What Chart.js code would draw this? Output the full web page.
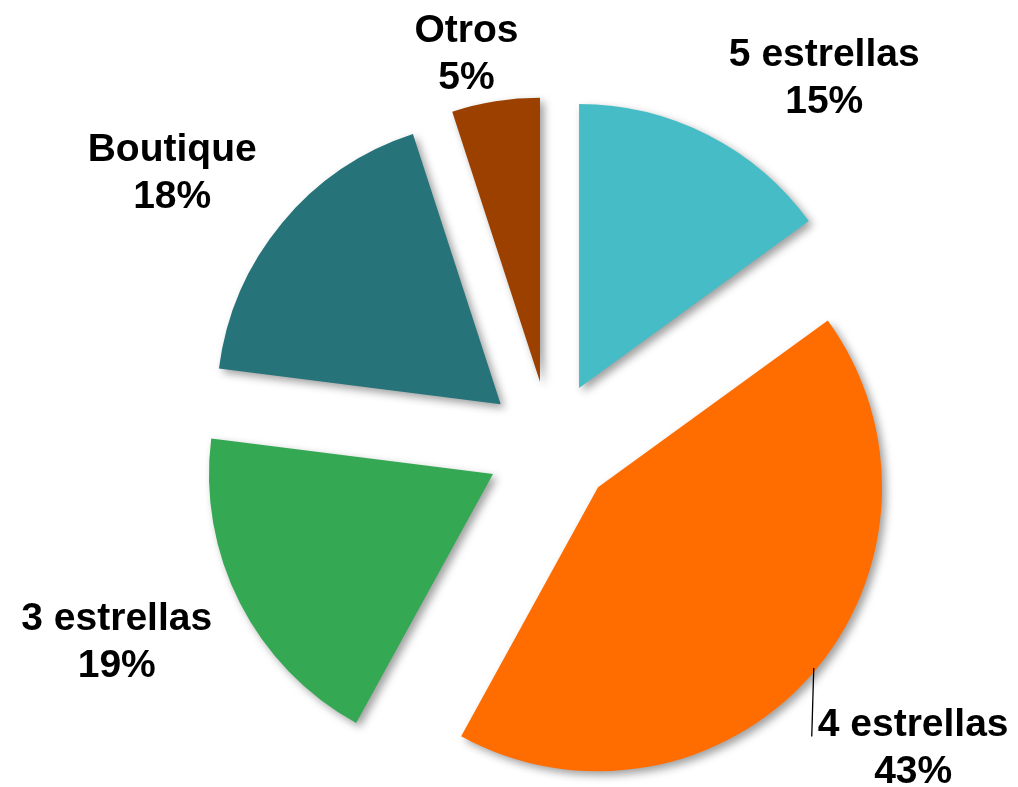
<!DOCTYPE html>
<html lang="es">
<head>
<meta charset="utf-8">
<title>Distribución por categoría</title>
<script src="https://cdn.jsdelivr.net/npm/chart.js@4.4.1/dist/chart.umd.min.js"></script>
<style>
  html, body { margin: 0; padding: 0; background: #ffffff; }
  #wrap { position: relative; width: 1018px; height: 787px; }
</style>
</head>
<body>
<div id="wrap"><canvas id="pie"></canvas></div>
<script>
// ---------------------------------------------------------------------------
// Data
// ---------------------------------------------------------------------------

const categories = ['5 estrellas', '4 estrellas', '3 estrellas', 'Boutique', 'Otros'];
const shares     = [15, 43, 19, 18, 5];   // percent
const colors     = ['#46bdc6', '#ff6d01', '#34a853', '#26737a', '#9c4000'];

// ---------------------------------------------------------------------------
// Styling
// ---------------------------------------------------------------------------

const EXPLODE = 64;      // px each slice is pulled out along its mid-angle
const RADIUS  = 284;
const LABEL_FONT = 'bold 39px "Liberation Sans", Arial, sans-serif';
const LINE_GAP = 47;

// label placement, relative to the un-exploded centre: extra radius past the
// edge and an angular nudge (degrees) away from the slice mid-angle
const labelGap   = [176, 188, 191, 183, 118];
const labelNudge = [9.6, -1.7, 2.8, -3.6, -3];
const labelLeader = [false, true, false, false, false];

// ---------------------------------------------------------------------------
// Plugins
// ---------------------------------------------------------------------------

const explodePlugin = {
  id: 'explode',
  afterDatasetsUpdate(chart) {
    chart.getDatasetMeta(0).data.forEach(arc => {
      const mid = (arc.startAngle + arc.endAngle) / 2;
      arc.x += Math.cos(mid) * EXPLODE;
      arc.y += Math.sin(mid) * EXPLODE;
    });
  },
  beforeDatasetsDraw(chart) {
    const ctx = chart.ctx;
    ctx.save();
    ctx.shadowColor = 'rgba(0, 0, 0, 0.38)';
    ctx.shadowBlur = 9;
    ctx.shadowOffsetX = 4;
    ctx.shadowOffsetY = 4;
  },
  afterDatasetsDraw(chart) {
    chart.ctx.restore();
  },
};

const labelPlugin = {
  id: 'sliceLabels',
  afterDraw(chart) {
    const ctx = chart.ctx;
    const arcs = chart.getDatasetMeta(0).data;
    ctx.save();
    ctx.font = LABEL_FONT;
    ctx.fillStyle = '#000000';
    ctx.textAlign = 'center';
    ctx.textBaseline = 'alphabetic';

    arcs.forEach((arc, i) => {
      const mid = (arc.startAngle + arc.endAngle) / 2;
      // original centre = exploded centre minus the explode shift
      const cx = arc.x - Math.cos(mid) * EXPLODE;
      const cy = arc.y - Math.sin(mid) * EXPLODE;
      const a = mid + labelNudge[i] * Math.PI / 180;
      const d = arc.outerRadius + labelGap[i];
      const lx = cx + Math.cos(a) * d;
      const ly = cy + Math.sin(a) * d;
      const base1 = ly - 10;

      ctx.fillText(categories[i], lx, base1);
      ctx.fillText(shares[i] + '%', lx, base1 + LINE_GAP);

      if (labelLeader[i]) {
        const w = ctx.measureText(categories[i]).width;
        const xBottom = lx - w / 2 - 6;
        const xTop = xBottom + 2;
        const dx = xTop - arc.x;
        const yTop = arc.y + Math.sqrt(Math.max(arc.outerRadius ** 2 - dx * dx, 0)) - 4;
        ctx.strokeStyle = '#000000';
        ctx.lineWidth = 1.3;
        ctx.beginPath();
        ctx.moveTo(xTop, yTop);
        ctx.lineTo(xBottom, base1);
        ctx.stroke();
      }
    });
    ctx.restore();
  },
};

// ---------------------------------------------------------------------------
// Chart
// ---------------------------------------------------------------------------

new Chart(document.getElementById('pie'), {
  type: 'pie',
  data: {
    labels: categories,
    datasets: [{
      data: shares,
      backgroundColor: colors,
      borderWidth: 0,
      radius: RADIUS,
    }],
  },
  options: {
    responsive: true,
    maintainAspectRatio: false,
    animation: false,
    layout: { padding: { left: 82, right: 0, top: 103, bottom: 0 } },
    plugins: {
      legend: { display: false },
      tooltip: { enabled: false },
    },
    events: [],
  },
  plugins: [explodePlugin, labelPlugin],
});
</script>
</body>
</html>
